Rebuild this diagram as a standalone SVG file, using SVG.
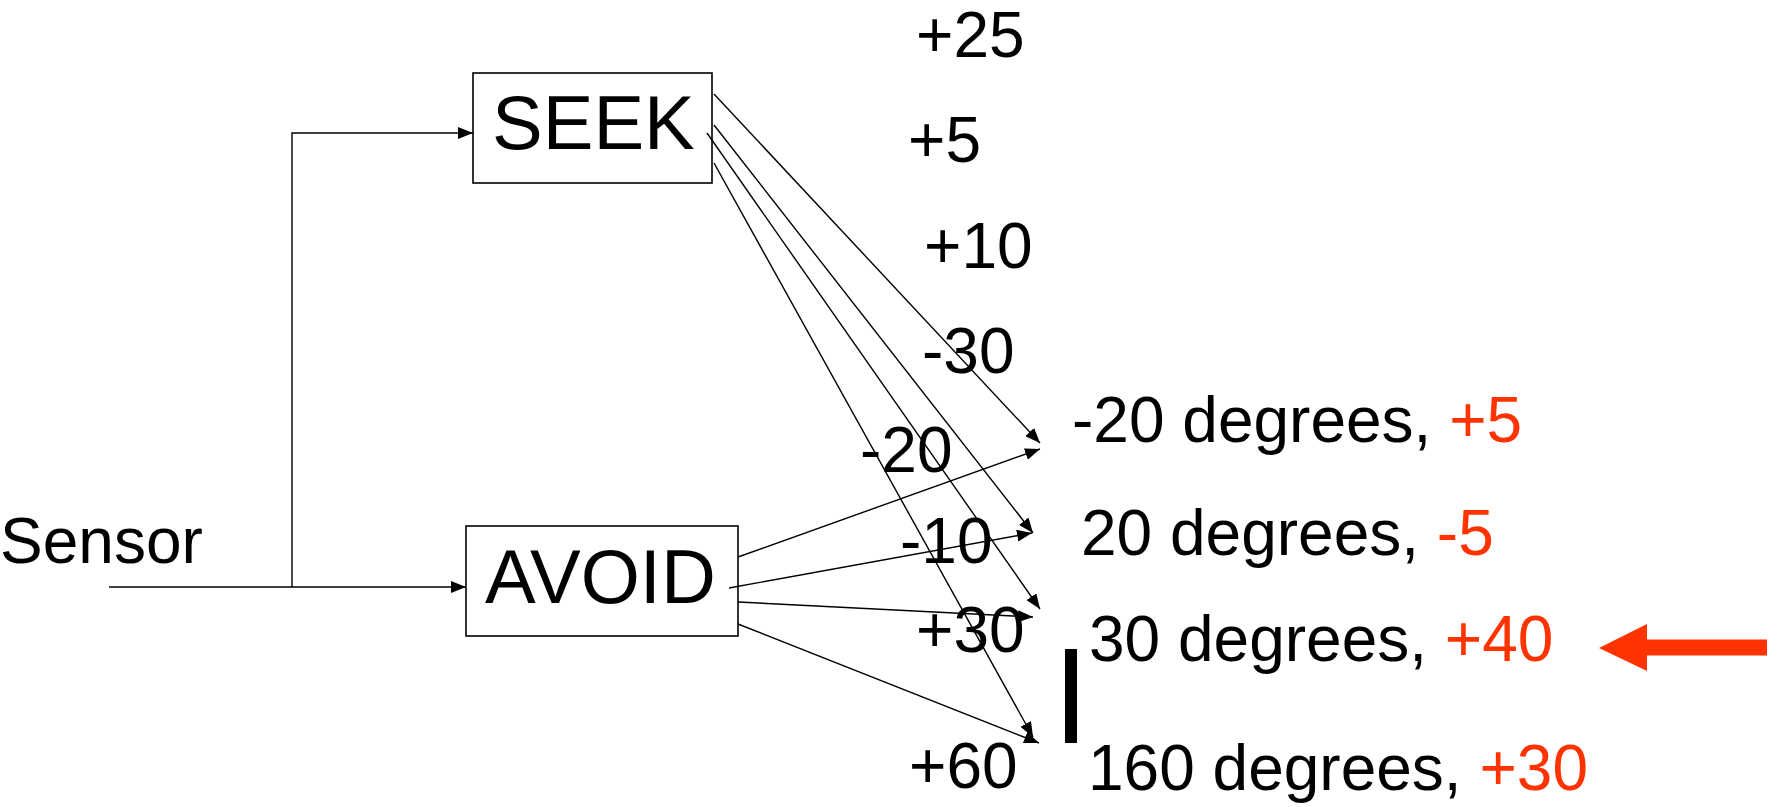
<svg xmlns="http://www.w3.org/2000/svg" width="1777" height="807" viewBox="0 0 1777 807">
  <style>
    .lbl { font-family: "Liberation Sans", Arial, sans-serif; font-size: 64px; fill: #000; }
    .box-text { font-family: "Liberation Sans", Arial, sans-serif; font-size: 76px; fill: #000; }
    .hot { fill: #ff3300; }
    .box { fill: #fff; stroke: #000; stroke-width: 1.6; }
    .wire { fill: none; stroke: #000; stroke-width: 1.4; marker-end: url(#head); }
    .plain { fill: none; stroke: #000; stroke-width: 1.4; }
  </style>
  <defs>
    <marker id="head" viewBox="0 0 15 12" refX="15" refY="6" markerWidth="15" markerHeight="12" markerUnits="userSpaceOnUse" orient="auto">
      <path d="M0,0 L15,6 L0,12 z" fill="#000"/>
    </marker>
  </defs>

  <rect width="1777" height="807" fill="#fff"/>

  <!-- input label -->
  <g id="sensor">
    <text class="lbl" x="0" y="563">Sensor</text>
  </g>

  <!-- behaviour boxes -->
  <g id="seek">
    <rect class="box" x="473" y="73" width="239" height="110"/>
    <text class="box-text" x="492" y="149">SEEK</text>
  </g>
  <g id="avoid">
    <rect class="box" x="466" y="526" width="272" height="110"/>
    <text class="box-text" x="485" y="603">AVOID</text>
  </g>

  <!-- vote weights along the wires -->
  <g id="weights">
    <text class="lbl" x="916" y="57">+25</text>
    <text class="lbl" x="908" y="162">+5</text>
    <text class="lbl" x="924" y="268">+10</text>
    <text class="lbl" x="922" y="373">-30</text>
    <text class="lbl" x="860" y="472">-20</text>
    <text class="lbl" x="900" y="563">-10</text>
    <text class="lbl" x="916" y="652">+30</text>
    <text class="lbl" x="909" y="788">+60</text>
  </g>

  <!-- candidate headings with summed votes -->
  <g id="heading-m20">
    <text class="lbl" x="1072" y="442">-20 degrees, <tspan class="hot">+5</tspan></text>
  </g>
  <g id="heading-20">
    <text class="lbl" x="1081" y="555">20 degrees, <tspan class="hot">-5</tspan></text>
  </g>
  <g id="heading-30">
    <text class="lbl" x="1089" y="661">30 degrees, <tspan class="hot">+40</tspan></text>
  </g>
  <g id="heading-160">
    <text class="lbl" x="1088" y="790">160 degrees, <tspan class="hot">+30</tspan></text>
  </g>

  <!-- separator bar -->
  <g id="bar">
    <rect x="1065" y="649" width="12" height="94" fill="#000"/>
  </g>

  <!-- winner pointer -->
  <g id="pointer">
    <path d="M1599,648 L1647,624 L1647,639.5 L1767,639.5 L1767,655.5 L1647,655.5 L1647,671 z" fill="#ff3300"/>
  </g>

  <g id="connectors">
    <!-- sensor fan-out -->
    <path class="wire" d="M109,587 H466"/>
    <path class="wire" d="M292,587 V133 H473"/>
    <!-- SEEK votes -->
    <line class="wire" x1="714" y1="94" x2="1040" y2="443"/>
    <line class="wire" x1="714" y1="125" x2="1033" y2="533"/>
    <line class="wire" x1="707" y1="133" x2="1040" y2="609"/>
    <line class="wire" x1="714" y1="163" x2="1033" y2="737"/>
    <!-- AVOID votes -->
    <line class="wire" x1="738" y1="557" x2="1040" y2="449"/>
    <line class="wire" x1="729" y1="588" x2="1032" y2="533"/>
    <line class="wire" x1="738" y1="602" x2="1033" y2="617"/>
    <line class="wire" x1="738" y1="624" x2="1039" y2="743"/>
  </g>
</svg>
